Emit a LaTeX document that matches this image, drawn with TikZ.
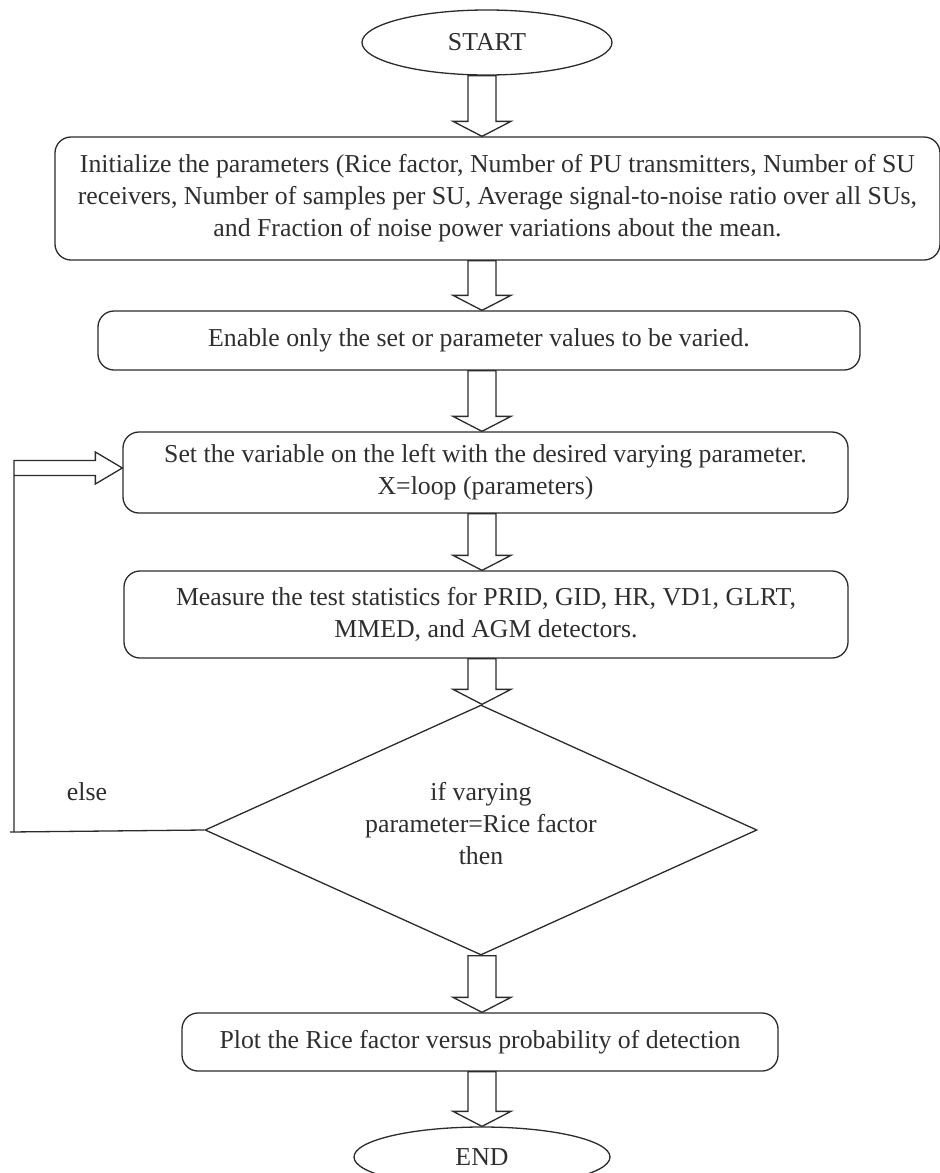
\documentclass[tikz,border=0pt]{standalone}
\usepackage{fontspec}
\setmainfont{Liberation Serif}
\usetikzlibrary{shapes.geometric,calc}
\definecolor{ink}{HTML}{2B2B2B}
\definecolor{txt}{HTML}{2E2E2E}
\newcommand{\blockdown}[2]{%
  \draw[blk] ($(ax |- #1.south)+(-14,0)$) -- ($(ax |- #2.north)+(-14,-15)$)
    -- ($(ax |- #2.north)+(-29,-15)$) -- (ax |- #2.north)
    -- ($(ax |- #2.north)+(29,-15)$) -- ($(ax |- #2.north)+(14,-15)$)
    -- ($(ax |- #1.south)+(14,0)$) -- cycle;}
\begin{document}
\begin{tikzpicture}[x=1pt,y=-1pt,line width=1.3pt,
  every node/.style={text=txt, font=\fontsize{25.8}{32}\selectfont},
  term/.style={ellipse, draw=ink, inner sep=0pt},
  proc/.style={draw=ink, rounded corners=16pt, align=center, inner sep=0pt},
  decide/.style={diamond, draw=ink, align=center, inner sep=0pt, shape aspect=2.2},
  blk/.style={draw=ink, fill=white, line join=miter},
  loopline/.style={draw=ink, line join=miter}]
\useasboundingbox (0,0) rectangle (940,1173);
\coordinate (ax) at (482,0);

\node[term, minimum width=250pt, minimum height=65pt] (start) at (487,42.5) {START};
\node[proc, minimum width=885pt, minimum height=123pt] (s1) at (497.5,198.5)
  {Initialize the parameters (Rice factor, Number of PU transmitters, Number of SU\\
   receivers, Number of samples per SU, Average signal-to-noise ratio over all SUs,\\
   and Fraction of noise power variations about the mean.};
\node[proc, minimum width=762pt, minimum height=59pt] (s2) at (479,340.5)
  {Enable only the set or parameter values to be varied.};
\node[proc, minimum width=725pt, minimum height=81pt] (s3) at (485.5,472.5)
  {Set the variable on the left with the desired varying parameter.\\ X=loop (parameters)};
\node[proc, minimum width=724pt, minimum height=87pt] (s4) at (486,614.5)
  {Measure the test statistics for PRID, GID, HR, VD1, GLRT,\\ MMED, and AGM detectors.};
\node[decide, minimum width=552pt, minimum height=250pt] (dia) at (481,830)
  {if varying\\ parameter=Rice factor\\ then\\[-18pt]};
\node[proc, minimum width=596pt, minimum height=58pt] (s5) at (480,1042)
  {Plot the Rice factor versus probability of detection};
\node[term, minimum width=256pt, minimum height=60pt] (end) at (482,1157) {END};
\node (else) at (87,792) {else};

\blockdown{start}{s1}
\blockdown{s1}{s2}
\blockdown{s2}{s3}
\blockdown{s3}{s4}
\blockdown{s4}{dia}
\blockdown{dia}{s5}
\blockdown{s5}{end}

\coordinate (lb) at (14,832);
\coordinate (tip) at ($(s3.west)+(0,-4.5)$);
\draw[loopline] (dia.west) -- ($(lb)+(-4,0)$);
\draw[loopline] (lb) -- ($(lb |- tip)+(0,-7.5)$) -- ($(tip)+(-27,-7.5)$)
  -- ($(tip)+(-27,-16)$) -- (tip) -- ($(tip)+(-27,16)$)
  -- ($(tip)+(-27,7.5)$) -- ($(lb |- tip)+(0,7.5)$);
\end{tikzpicture}
\end{document}
